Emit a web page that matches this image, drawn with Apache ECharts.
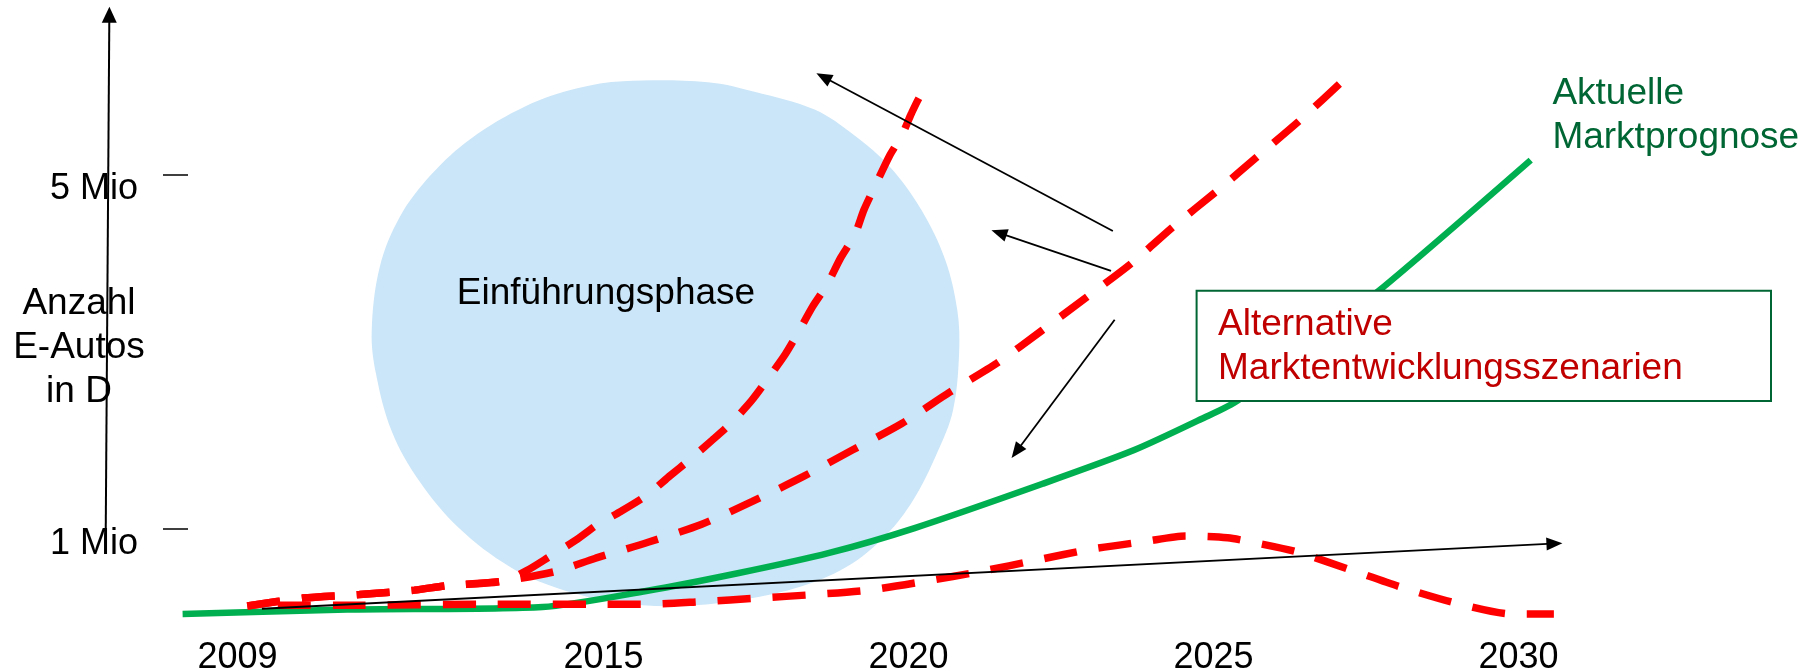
<!DOCTYPE html>
<html lang="de">
<head>
<meta charset="utf-8">
<title>Anzahl E-Autos in D</title>
<script src="https://cdn.jsdelivr.net/npm/echarts@6.0.0/dist/echarts.min.js"></script>
<style>
  html, body { margin: 0; padding: 0; background: #ffffff; }
  #chart { width: 1811px; height: 671px; }
</style>
</head>
<body>
<div id="chart"></div>
<script>
// Beschriftete Jahre der Zeitachse
const yearTicks = [2009, 2015, 2020, 2025, 2030];
// Markierungen der Mengenachse (Mio Fahrzeuge)
const countTicks = [1, 5];
const countTickLabels = ['1 Mio', '5 Mio'];

// [Jahr, Mio E-Autos] – aktuelle Marktprognose
const marketForecast = [
  [2008.1, 0.04], [2010.8, 0.09], [2014.0, 0.12], [2015.7, 0.30], [2017.2, 0.50],
  [2018.7, 0.73], [2020.1, 1.01], [2022.2, 1.51], [2023.7, 1.89], [2024.8, 2.24],
  [2025.4, 2.45], [2027.7, 3.68], [2030.2, 5.16]
];

// Alternative Szenarien: schneller, mittlerer und gebremster Markthochlauf
const scenarioFast = [
  [2009.16, 0.13], [2010.07, 0.22], [2011.0, 0.26], [2011.9, 0.31], [2012.43, 0.36],
  [2013.34, 0.41], [2013.74, 0.53], [2014.12, 0.69], [2014.54, 0.87], [2014.9, 1.05],
  [2015.29, 1.20], [2015.71, 1.38], [2016.09, 1.60], [2016.41, 1.78], [2016.78, 2.00],
  [2017.10, 2.20], [2017.43, 2.45], [2017.68, 2.68], [2017.98, 2.97], [2018.17, 3.19],
  [2018.43, 3.51], [2018.66, 3.75], [2018.89, 4.06], [2019.12, 4.32], [2019.27, 4.60],
  [2019.46, 4.88], [2019.69, 5.21], [2019.89, 5.44], [2020.05, 5.69], [2020.18, 5.87],
  [2020.35, 6.03]
];
const scenarioMedium = [
  [2009.16, 0.13], [2010.07, 0.22], [2011.0, 0.26], [2011.9, 0.31], [2012.43, 0.36],
  [2013.34, 0.41], [2014.21, 0.52], [2014.87, 0.67], [2015.73, 0.85], [2016.60, 1.05],
  [2017.44, 1.31], [2018.27, 1.59], [2019.08, 1.89], [2019.89, 2.19], [2020.67, 2.54],
  [2021.45, 2.87], [2022.19, 3.24], [2022.95, 3.63], [2023.66, 4.00], [2024.34, 4.41],
  [2025.07, 4.82], [2025.77, 5.23], [2026.45, 5.63], [2027.16, 6.08]
];
const scenarioSlow = [
  [2009.66, 0.14], [2010.79, 0.14], [2013.06, 0.15], [2014.76, 0.15], [2015.71, 0.15],
  [2016.60, 0.18], [2017.54, 0.22], [2018.45, 0.26], [2019.34, 0.31], [2020.27, 0.41],
  [2021.18, 0.52], [2022.11, 0.65], [2022.98, 0.77], [2023.89, 0.86], [2024.55, 0.92],
  [2025.23, 0.90], [2025.71, 0.84], [2026.37, 0.74], [2027.24, 0.54], [2028.09, 0.34],
  [2028.99, 0.16], [2029.90, 0.04], [2030.58, 0.04]
];

// Umriss der Einführungsphase [Jahr, Mio]
const launchPhaseOutline = [
  [2015.32, 6.05], [2016.71, 6.04], [2017.49, 5.93], [2018.46, 5.73], [2019.11, 5.44],
  [2019.70, 5.08], [2020.21, 4.60], [2020.60, 4.04], [2020.80, 3.47], [2020.83, 2.99],
  [2020.73, 2.34], [2020.47, 1.86], [2020.08, 1.33], [2019.63, 0.93], [2018.98, 0.57],
  [2018.14, 0.33], [2017.17, 0.19], [2016.19, 0.13], [2015.22, 0.17], [2014.25, 0.33],
  [2013.47, 0.57], [2012.63, 1.01], [2011.98, 1.54], [2011.53, 2.10], [2011.27, 2.75],
  [2011.20, 3.23], [2011.33, 3.95], [2011.66, 4.52], [2012.18, 5.00], [2012.82, 5.40],
  [2013.73, 5.77], [2014.57, 5.97]
];

// Hinweispfeile [vonJahr, vonMio, nachJahr, nachMio]
const scenarioArrows = [
  [2023.35, 4.36, 2018.49, 6.14],
  [2023.32, 3.91, 2021.36, 4.37],
  [2023.38, 3.36, 2021.69, 1.80],
  [2009.40, 0.10, 2030.72, 0.84]
];
// Mengenachse als Pfeil
const countAxisArrow = [
  [2006.84, 0.99, 2006.90, 6.89]
];

const FONT = '"Liberation Sans", Arial, Helvetica, sans-serif';

// Pfeil: Linie mit ausgefüllter Spitze, Endpunkte über die Achsen umgerechnet
function arrowRenderer(headLen, headHalf, width) {
  return function (params, api) {
    const a = api.coord([api.value(0), api.value(1)]);
    const b = api.coord([api.value(2), api.value(3)]);
    const dx = b[0] - a[0], dy = b[1] - a[1];
    const len = Math.hypot(dx, dy) || 1;
    const ux = dx / len, uy = dy / len;
    const bx = b[0] - ux * headLen, by = b[1] - uy * headLen;
    return {
      type: 'group',
      children: [
        { type: 'line', shape: { x1: a[0], y1: a[1], x2: bx + ux, y2: by + uy },
          style: { stroke: '#000000', lineWidth: width } },
        { type: 'polygon',
          shape: { points: [[b[0], b[1]], [bx - uy * headHalf, by + ux * headHalf], [bx + uy * headHalf, by - ux * headHalf]] },
          style: { fill: '#000000' } }
      ]
    };
  };
}

const scenarioLine = {
  color: '#FF0000', width: 7.5, type: [33, 22], cap: 'butt'
};

const chart = echarts.init(document.getElementById('chart'), null, { renderer: 'canvas' });

chart.setOption({
  animation: false,
  backgroundColor: '#ffffff',
  grid: {
    left: 176.5, right: 48.5, top: 5.9, bottom: 53.4,
    containLabel: false, outerBoundsMode: 'none'
  },
  xAxis: {
    type: 'value', min: 2008, max: 2034,
    axisLine: { show: false }, axisTick: { show: false }, splitLine: { show: false },
    axisLabel: {
      customValues: yearTicks,
      formatter: v => String(v),
      color: '#000000', fontSize: 36, fontFamily: FONT, margin: 22
    }
  },
  yAxis: {
    type: 'value', min: 0, max: 6.9, position: 'left', offset: -11.5,
    axisLine: { show: false }, splitLine: { show: false },
    axisTick: {
      show: true, customValues: countTicks, length: 25, inside: false,
      lineStyle: { color: '#000000', width: 1.5 }
    },
    axisLabel: {
      customValues: countTicks,
      formatter: v => countTickLabels[countTicks.indexOf(v)],
      color: '#000000', fontSize: 36, fontFamily: FONT, margin: 50,
      verticalAlign: 'top', lineHeight: 30
    }
  },
  series: [
    {
      type: 'custom', name: 'Einführungsphase', z: 1, silent: true, clip: false,
      data: launchPhaseOutline, encode: { x: 0, y: 1 },
      renderItem: function (params, api) {
        if (params.dataIndex !== 0) return null;
        const pts = launchPhaseOutline.map(p => api.coord(p));
        return { type: 'polygon', shape: { points: pts, smooth: 0.35 }, style: { fill: '#CBE6F8' } };
      }
    },
    {
      type: 'line', name: 'Aktuelle Marktprognose', data: marketForecast,
      symbol: 'none', smooth: 0.25, clip: false, z: 3,
      lineStyle: { color: '#00B050', width: 6.5 },
      endLabel: {
        show: true, formatter: 'Aktuelle\nMarktprognose', color: '#006633',
        fontSize: 37, fontFamily: FONT, lineHeight: 43.6,
        align: 'left', verticalAlign: 'middle', distance: 0, offset: [21.7, -44.5]
      }
    },
    { type: 'line', name: 'Szenario gebremst', data: scenarioSlow, symbol: 'none', smooth: 0.25, clip: false, z: 4, lineStyle: scenarioLine },
    { type: 'line', name: 'Szenario mittel', data: scenarioMedium, symbol: 'none', smooth: 0.25, clip: false, z: 4, lineStyle: scenarioLine },
    { type: 'line', name: 'Szenario schnell', data: scenarioFast, symbol: 'none', smooth: 0.25, clip: false, z: 4, lineStyle: scenarioLine },
    {
      type: 'custom', name: 'Hinweise', z: 5, silent: true, clip: false,
      data: scenarioArrows, encode: { x: [0, 2], y: [1, 3] },
      renderItem: arrowRenderer(16, 6.5, 1.8)
    },
    {
      type: 'custom', name: 'Mengenachse', z: 5, silent: true, clip: false,
      data: countAxisArrow, encode: { x: [0, 2], y: [1, 3] },
      renderItem: arrowRenderer(16, 7.5, 2)
    }
  ],
  graphic: [
    {
      type: 'text', x: 79, y: 348, z: 50, silent: true,
      style: { text: 'Anzahl\nE-Autos\nin D', fill: '#000000', fontSize: 37, fontFamily: FONT,
               align: 'center', verticalAlign: 'middle', lineHeight: 44 }
    },
    {
      type: 'text', x: 606, y: 293.6, z: 50, silent: true,
      style: { text: 'Einführungsphase', fill: '#000000', fontSize: 37, fontFamily: FONT,
               align: 'center', verticalAlign: 'middle' }
    },
    {
      type: 'rect', z: 60, silent: true,
      shape: { x: 1196.6, y: 290.7, width: 574.4, height: 110.3 },
      style: { fill: '#ffffff', stroke: '#006633', lineWidth: 2 }
    },
    {
      type: 'text', x: 1218, y: 347, z: 61, silent: true,
      style: { text: 'Alternative\nMarktentwicklungsszenarien', fill: '#C00000', fontSize: 37, fontFamily: FONT,
               align: 'left', verticalAlign: 'middle', lineHeight: 43.7 }
    }
  ]
});
</script>
</body>
</html>
